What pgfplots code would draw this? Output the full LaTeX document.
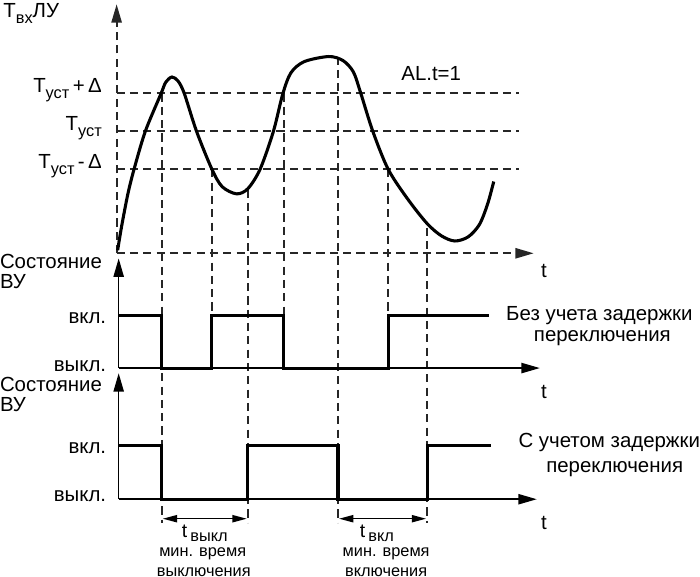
\documentclass[border=0pt]{standalone}
\usepackage{pgfplots}
\pgfplotsset{compat=1.18}
\usepackage{fontspec}
\setmainfont{Liberation Sans}
\usetikzlibrary{arrows.meta}
\newcommand{\sub}[1]{\raisebox{-0.3em}{\fontsize{16}{16}\selectfont #1}}
\newcommand{\subb}[1]{\raisebox{-0.2em}{\fontsize{16}{16}\selectfont #1}}
\begin{document}
\begin{tikzpicture}[font=\fontsize{20}{22}\selectfont]
\begin{axis}[width=700bp,height=584bp,scale only axis,
  xmin=0,xmax=700,ymin=0,ymax=584,y dir=reverse,
  axis lines=none,clip=false,
  dsh/.style={black!85,line width=1.9bp,dash pattern=on 8bp off 5bp},
  arr/.style={-{Triangle[length=18bp,width=10bp]}},
  ]
% threshold lines
\addplot[dsh] coordinates {(120,99) (513,99)};
\addplot[dsh] coordinates {(120,136) (513,136)};
\addplot[dsh] coordinates {(120,173) (513,173)};
% vertical guide lines
\addplot[dsh] coordinates {(164,99) (164,518)};
\addplot[dsh] coordinates {(213,173) (213,366)};
\addplot[dsh] coordinates {(248,193) (248,518)};
\addplot[dsh] coordinates {(283,99) (283,366)};
\addplot[dsh] coordinates {(336,63) (336,518)};
\addplot[dsh] coordinates {(385,173) (385,366)};
\addplot[dsh] coordinates {(423,230) (423,518)};
% top axes (dashed)
\addplot[dsh,arr] coordinates {(120,255) (120,12)};
\addplot[dsh,arr] coordinates {(120,255) (527,255)};
% curve
\addplot[black,line width=3bp,smooth,tension=0.5] coordinates {
(121,252) (125,228) (131,197) (137,173) (148,136) (163,100)
(168,88) (174,83) (180,87) (186,99) (198,136) (213,173) (223,190)
(237,197) (248,192) (260,173) (273,136) (282,100) (290,79) (303,68)
(327,63) (341,67) (351,78) (358,98) (370,136) (385,173)
(404,202) (423,226) (437,238) (450,243) (463,239) (474,227) (482,207) (488,185)};
% middle axes
\addplot[black,line width=1.5bp,arr] coordinates {(122,367) (122,260)};
\addplot[black,line width=1.5bp,arr] coordinates {(122,367) (533,367)};
\addplot[black,line width=3bp] coordinates {
(122,316) (164,316) (164,367) (213,367) (213,316) (283,316) (283,367)
(385,367) (385,316) (483,316)};
% bottom axes
\addplot[black,line width=1.5bp,arr] coordinates {(122,495) (122,372)};
\addplot[black,line width=1.5bp,arr] coordinates {(122,495) (530,495)};
\addplot[black,line width=3bp] coordinates {
(122,443) (164,443) (164,495) (248,495) (248,443) (336,443) (336,495)
(423,495) (423,443) (485,443)};
% dimension arrows
\addplot[black,line width=1.5bp,{Triangle[length=14bp,width=7bp]}-{Triangle[length=14bp,width=7bp]}] coordinates {(165,514) (247,514)};
\addplot[black,line width=1.5bp,{Triangle[length=14bp,width=7bp]}-{Triangle[length=14bp,width=7bp]}] coordinates {(337,514) (422,514)};
% labels
\node[anchor=west] at (axis cs:6,21) {T\sub{вх}ЛУ};
\node[anchor=east] at (axis cs:109,96) {T\sub{уст}\,+\,Δ};
\node[anchor=east] at (axis cs:109,133) {T\sub{уст}};
\node[anchor=east] at (axis cs:109,170) {T\sub{уст}\,-\,Δ};
\node at (axis cs:427,80) {AL.t=1};
\node at (axis cs:537,272) {t};
\node at (axis cs:537,390) {t};
\node at (axis cs:537,518) {t};
\node[anchor=west,inner sep=0pt] at (axis cs:6,263) {Состояние};
\node[anchor=west,inner sep=0pt] at (axis cs:6,283) {ВУ};
\node[anchor=west,inner sep=0pt] at (axis cs:6,383) {Состояние};
\node[anchor=west,inner sep=0pt] at (axis cs:6,403) {ВУ};
\node[anchor=east,inner sep=0pt] at (axis cs:110,318) {вкл.};
\node[anchor=east,inner sep=0pt] at (axis cs:110,365) {выкл.};
\node[anchor=east,inner sep=0pt] at (axis cs:110,445) {вкл.};
\node[anchor=east,inner sep=0pt] at (axis cs:110,492) {выкл.};
\node[anchor=west,inner sep=0pt] at (axis cs:500,316) {Без учета задержки};
\node[inner sep=0pt] at (axis cs:594,338) {переключения};
\node[anchor=west,inner sep=0pt] at (axis cs:512,440) {С учетом задержки};
\node[inner sep=0pt] at (axis cs:606,466) {переключения};
\begin{scope}[font=\fontsize{16}{18}\selectfont]
\node[inner sep=0pt] at (axis cs:206,528) {\fontsize{19}{19}\selectfont t\,\subb{выкл}};
\node[inner sep=0pt] at (axis cs:204,548) {мин. время};
\node[inner sep=0pt] at (axis cs:205,566) {выключения};
\node[inner sep=0pt] at (axis cs:374,528) {\fontsize{19}{19}\selectfont t\,\subb{вкл}};
\node[inner sep=0pt] at (axis cs:383,548) {мин. время};
\node[inner sep=0pt] at (axis cs:383,566) {включения};
\end{scope}
\end{axis}
\end{tikzpicture}
\end{document}
